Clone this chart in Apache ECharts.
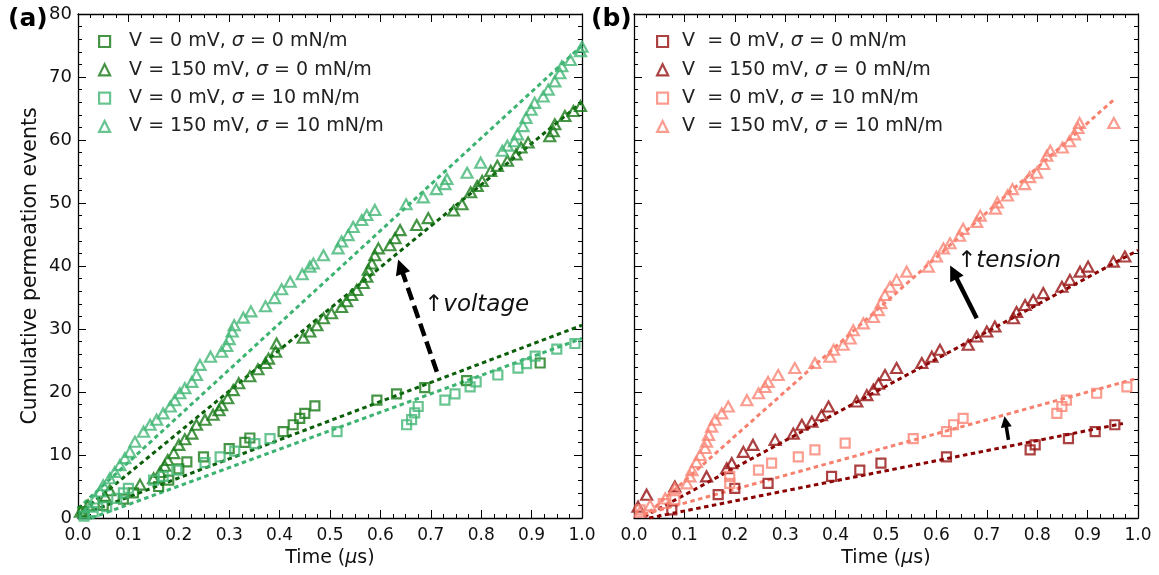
<!DOCTYPE html>
<html><head><meta charset="utf-8">
<script src="https://cdn.jsdelivr.net/npm/echarts@6/dist/echarts.min.js"></script>
<style>html,body{margin:0;padding:0;background:#fff}#c{width:1159px;height:575px}</style>
</head><body><div id="c"></div>
<script>
// ---------- legend names ----------
const namesA = ['V = 0 mV, σ = 0 mN/m', 'V = 150 mV, σ = 0 mN/m', 'V = 0 mV, σ = 10 mN/m', 'V = 150 mV, σ = 10 mN/m'];
const namesB = ['V  = 0 mV, σ = 0 mN/m', 'V  = 150 mV, σ = 0 mN/m', 'V  = 0 mV, σ = 10 mN/m', 'V  = 150 mV, σ = 10 mN/m'];

// ---------- panel (a) data: [time (μs), cumulative events] ----------
const a_V0_S0 = [[0.01,1],[0.05,2],[0.09,3],[0.11,4],[0.16,5],[0.18,6],[0.2,7.8],[0.216,8.9],[0.249,9.7],[0.3,11],[0.331,12],[0.341,12.7],[0.407,13.7],[0.427,14.8],[0.44,15.8],[0.45,16.6],[0.47,17.8],[0.593,18.7],[0.632,19.7],[0.688,20.7],[0.771,21.8],[0.917,24.6]];
const a_V150_S0 = [[0.005,1],[0.02,2],[0.054,3.4],[0.063,4.4],[0.123,5.3],[0.15,6.3],[0.163,7.3],[0.172,8.3],[0.178,9.2],[0.19,10.3],[0.2,11.6],[0.212,12.5],[0.226,13.4],[0.235,14.8],[0.252,15.6],[0.268,16.4],[0.28,17.1],[0.285,17.9],[0.297,19],[0.308,20.3],[0.319,21.4],[0.341,22.5],[0.357,23.6],[0.372,24.6],[0.378,25.3],[0.392,26.4],[0.394,27.7],[0.447,28.6],[0.46,29.6],[0.474,30.6],[0.487,31.7],[0.503,32.5],[0.523,33.5],[0.533,34.4],[0.543,35.4],[0.553,36.2],[0.566,37.3],[0.573,38.3],[0.576,39.4],[0.583,40.4],[0.589,41.7],[0.596,42.8],[0.619,43.3],[0.629,44.4],[0.639,45.7],[0.672,46.5],[0.695,47.6],[0.745,48.8],[0.762,49.8],[0.779,51.7],[0.792,52.7],[0.802,53.5],[0.819,55.1],[0.832,55.9],[0.852,56.7],[0.869,57.7],[0.879,58.8],[0.893,59.6],[0.936,60.6],[0.943,61.4],[0.946,62.5],[0.966,63.8],[0.983,64.6],[0.997,65.4]];
const a_V0_S10 = [[0.012,0.3],[0.03,1],[0.057,1.8],[0.077,3.1],[0.09,4],[0.1,4.7],[0.15,6],[0.169,6.6],[0.196,7.6],[0.252,8.8],[0.282,9.7],[0.311,10.6],[0.351,11.8],[0.381,12.6],[0.514,13.7],[0.652,14.8],[0.662,15.6],[0.668,16.7],[0.675,17.7],[0.728,18.7],[0.748,19.7],[0.778,20.8],[0.79,21.6],[0.833,22.7],[0.873,23.8],[0.89,24.5],[0.907,25.7],[0.95,26.8],[0.986,27.7]];
const a_V150_S10 = [[0.014,0.7],[0.024,1.8],[0.034,3.1],[0.044,4.2],[0.05,5.2],[0.063,6.3],[0.073,7.3],[0.083,8.4],[0.093,9.5],[0.103,10.5],[0.113,12.1],[0.13,13.7],[0.143,14.8],[0.156,15.6],[0.169,16.6],[0.183,17.7],[0.192,18.7],[0.202,19.8],[0.212,20.6],[0.226,21.6],[0.235,22.7],[0.242,24.3],[0.263,25.6],[0.285,26.4],[0.295,27.3],[0.3,28.4],[0.306,29.6],[0.31,30.6],[0.328,31.8],[0.343,32.8],[0.372,33.6],[0.39,34.9],[0.404,36.3],[0.421,37.5],[0.445,38.7],[0.46,39.9],[0.467,40.4],[0.487,41.7],[0.516,42.8],[0.523,43.9],[0.536,44.9],[0.546,46.2],[0.563,47.3],[0.573,48.1],[0.589,48.9],[0.651,49.8],[0.685,50.9],[0.711,52.2],[0.728,53],[0.732,53.8],[0.772,54.8],[0.799,56.4],[0.842,58.3],[0.852,59.1],[0.866,59.8],[0.872,60.9],[0.883,62.2],[0.889,63.5],[0.899,64.8],[0.906,65.9],[0.923,66.9],[0.933,68],[0.946,69.3],[0.956,70.6],[0.96,71.7],[0.977,72.7],[0.997,74.1],[1.0,74.8]];

// fitted lines, panel (a): [[t0, n0], [t1, n1]]
const fitA_V0_S0 = [[0.0,0.3],[1.0,30.6]];
const fitA_V150_S0 = [[0.0,0.5],[1.0,66.0]];
const fitA_V0_S10 = [[0.027,0.0],[1.0,28.5]];
const fitA_V150_S10 = [[0.0,1.5],[1.0,75.0]];

// ---------- panel (b) data ----------
const b_V0_S0 = [[0.075,1.3],[0.167,3.7],[0.2,4.7],[0.266,5.5],[0.392,6.6],[0.448,7.6],[0.49,8.7],[0.62,9.7],[0.786,10.8],[0.796,11.6],[0.862,12.6],[0.915,13.7],[0.954,14.8]];
const b_V150_S0 = [[0.008,1.8],[0.025,3.7],[0.081,5],[0.144,6.6],[0.184,7.9],[0.194,8.7],[0.217,10.5],[0.236,11.6],[0.28,12.4],[0.316,13.4],[0.333,14.8],[0.353,15.3],[0.372,16.3],[0.386,17.7],[0.442,18.5],[0.462,19.5],[0.475,20.4],[0.485,21.3],[0.498,22.7],[0.521,23.8],[0.571,24.6],[0.591,25.6],[0.607,26.7],[0.663,27.5],[0.68,28.8],[0.7,29.6],[0.716,30.4],[0.753,31.7],[0.759,32.7],[0.776,33.8],[0.792,34.6],[0.812,35.7],[0.849,36.7],[0.865,37.8],[0.885,39.1],[0.901,39.9],[0.951,40.7],[0.974,41.5]];
const b_V0_S10 = [[0.012,1.3],[0.058,2.3],[0.081,2.9],[0.19,5.5],[0.19,6.6],[0.247,7.6],[0.273,8.7],[0.326,9.7],[0.359,10.8],[0.419,11.9],[0.554,12.6],[0.62,13.7],[0.634,14.8],[0.653,15.8],[0.839,16.6],[0.849,17.7],[0.858,18.7],[0.918,19.8],[0.978,20.8]];
const b_V150_S10 = [[0.012,1],[0.032,2],[0.062,3.1],[0.081,4.7],[0.105,5.5],[0.111,6.6],[0.115,7.6],[0.124,8.9],[0.131,10],[0.141,11.1],[0.144,12.1],[0.148,13.2],[0.154,14.5],[0.161,15.6],[0.174,16.6],[0.187,17.7],[0.224,18.7],[0.247,19.8],[0.26,20.8],[0.266,21.6],[0.286,22.7],[0.319,23.8],[0.359,24.6],[0.389,25.6],[0.396,26.7],[0.415,27.5],[0.429,28.5],[0.435,29.8],[0.455,30.9],[0.475,31.9],[0.485,33],[0.49,34.1],[0.498,35.4],[0.508,36.7],[0.521,37.8],[0.541,39.1],[0.584,39.9],[0.6,41.5],[0.614,42.8],[0.627,43.6],[0.646,44.8],[0.653,45.9],[0.68,47],[0.687,48],[0.717,49.1],[0.721,50.1],[0.741,51.2],[0.751,52.2],[0.775,53],[0.785,54.1],[0.799,54.8],[0.813,56.2],[0.819,57.5],[0.826,58.3],[0.85,58.8],[0.864,59.8],[0.874,60.9],[0.881,61.9],[0.884,62.7],[0.952,62.7]];

const fitB_V0_S0 = [[0.03,0.0],[0.97,15.0]];
const fitB_V150_S0 = [[0.02,0.2],[1.0,42.5]];
const fitB_V0_S10 = [[0.02,0.6],[1.0,22.2]];
const fitB_V150_S10 = [[0.03,0.9],[0.952,66.4]];

// annotation arrows (data coordinates): [tail, head]
const arrowVoltage = [[0.712,23.2],[0.640,39.9]];
const arrowTension = [[0.680,31.7],[0.634,39.0]];
const arrowSmall = [[0.743,12.4],[0.737,15.3]];

// ---------- styling ----------
const FONT = 'DejaVu Sans';
const colA = {dark:'#187a18', darkLine:'#0b5f0b', light:'#42b676', lightLine:'#3cb371'};
const colB = {dark:'#961212', darkLine:'#8b0000', light:'#f98474', lightLine:'#f8806f'};

function xAx(gi, top, showLabel){
  return {type:'value', gridIndex:gi, min:0, max:1, interval:0.1, position: top?'top':'bottom',
    axisLine:{onZero:false, lineStyle:{color:'#000', width:1.3}},
    axisTick:{inside:true, length:8, lineStyle:{color:'#000', width:1}},
    minorTick:{show:true, splitNumber:4, length:4, lineStyle:{color:'#000', width:1}},
    splitLine:{show:false},
    axisLabel:{show:showLabel, margin:9, fontFamily:FONT, fontSize:17, color:'#111', formatter:v=>v.toFixed(1)},
    name: showLabel ? 'Time ({i|μ}s)' : '', nameLocation:'middle', nameGap:30,
    nameTextStyle:{fontFamily:FONT, fontSize:19, color:'#111', rich:{i:{fontStyle:'italic', fontFamily:FONT, fontSize:19, color:'#111'}}}
  };
}
function yAx(gi, right, showLabel, name){
  return {type:'value', gridIndex:gi, min:0, max:80, interval:10, position: right?'right':'left',
    axisLine:{onZero:false, lineStyle:{color:'#000', width:1.3}},
    axisTick:{inside:true, length:8, lineStyle:{color:'#000', width:1}},
    minorTick:{show:true, splitNumber:5, length:4, lineStyle:{color:'#000', width:1}},
    splitLine:{show:false},
    axisLabel:{show:showLabel, margin:6, fontFamily:FONT, fontSize:18, color:'#111'},
    name: name||'', nameLocation:'middle', nameGap:37,
    nameTextStyle:{fontFamily:FONT, fontSize:20.5, color:'#111'}
  };
}
function sc(name, data, sq, color, xi, yi){
  return {type:'scatter', name, data, xAxisIndex:xi, yAxisIndex:yi,
    symbol: sq?'rect':'triangle', symbolSize: sq?9:[11,10],
    itemStyle:{color:'rgba(0,0,0,0)', borderColor:color, borderWidth:2.2}, z:3, silent:true};
}
function fit(data, color, xi, yi){
  return {type:'line', data, xAxisIndex:xi, yAxisIndex:yi, symbol:'none', silent:true, z:2,
    lineStyle:{color, width:3, type:[4.5,3.5]}};
}
function arrow(coords, xi, yi, dash, w, head){
  return {type:'lines', coordinateSystem:'cartesian2d', xAxisIndex:xi, yAxisIndex:yi, z:6, silent:true,
    data:[{coords}], symbol:['none','triangle'], symbolSize:[1,head],
    lineStyle:{color:'#000', width:w, type:dash, opacity:1, cap:'butt'}, itemStyle:{color:'#000'}};
}
function legendText(padLeft){
  return {fontFamily:FONT, fontSize:19, color:'#222', lineHeight:19, padding:[0,0,0,padLeft],
    rich:{s:{fontFamily:FONT, fontStyle:'italic', fontSize:19, color:'#222', lineHeight:19}}};
}
const fmt = n => n.replace('σ', '{s|σ}');

const chart = echarts.init(document.getElementById('c'), null, {renderer:'canvas'});
chart.setOption({
  animation:false,
  backgroundColor:'#fff',
  grid:[{left:78, top:14, width:504, height:504}, {left:634, top:14, width:504, height:504}],
  xAxis:[xAx(0,false,true), xAx(0,true,false), xAx(1,false,true), xAx(1,true,false)],
  yAxis:[yAx(0,false,true,'Cumulative permeation events'), yAx(0,true,false), yAx(1,false,false), yAx(1,true,false)],
  legend:[
    {data:namesA, orient:'vertical', left:98, top:32, padding:0, itemWidth:11, itemHeight:11, itemGap:9.3,
     selectedMode:false, textStyle:legendText(14), formatter:fmt, itemStyle:{borderWidth:2.2}},
    {data:namesB, orient:'vertical', left:656, top:32, padding:0, itemWidth:11, itemHeight:11, itemGap:9.3,
     selectedMode:false, textStyle:legendText(9), formatter:fmt, itemStyle:{borderWidth:2.2}}
  ],
  graphic:[
    {type:'text', left:8, top:7, style:{text:'(a)', font:'bold 25px "DejaVu Sans"', fill:'#000'}},
    {type:'text', left:591, top:7, style:{text:'(b)', font:'bold 25px "DejaVu Sans"', fill:'#000'}},
    {type:'text', x:424, y:305, style:{text:'{u|↑}{i|voltage}', verticalAlign:'middle',
      rich:{u:{fontFamily:FONT, fontSize:23, fill:'#111'}, i:{fontFamily:FONT, fontStyle:'italic', fontSize:23, fill:'#111'}}}},
    {type:'text', x:957, y:261, style:{text:'{u|↑}{i|tension}', verticalAlign:'middle',
      rich:{u:{fontFamily:FONT, fontSize:23, fill:'#111'}, i:{fontFamily:FONT, fontStyle:'italic', fontSize:23, fill:'#111'}}}}
  ],
  series:[
    fit(fitA_V0_S0, colA.darkLine, 0, 0),
    fit(fitA_V150_S0, colA.darkLine, 0, 0),
    fit(fitA_V0_S10, colA.lightLine, 0, 0),
    fit(fitA_V150_S10, colA.lightLine, 0, 0),
    sc(namesA[0], a_V0_S0, true, colA.dark, 0, 0),
    sc(namesA[1], a_V150_S0, false, colA.dark, 0, 0),
    sc(namesA[2], a_V0_S10, true, colA.light, 0, 0),
    sc(namesA[3], a_V150_S10, false, colA.light, 0, 0),
    fit(fitB_V0_S0, colB.darkLine, 2, 2),
    fit(fitB_V150_S0, colB.darkLine, 2, 2),
    fit(fitB_V0_S10, colB.lightLine, 2, 2),
    fit(fitB_V150_S10, colB.lightLine, 2, 2),
    sc(namesB[0], b_V0_S0, true, colB.dark, 2, 2),
    sc(namesB[1], b_V150_S0, false, colB.dark, 2, 2),
    sc(namesB[2], b_V0_S10, true, colB.light, 2, 2),
    sc(namesB[3], b_V150_S10, false, colB.light, 2, 2),
    arrow(arrowVoltage, 0, 0, [13,6], 4.5, 15),
    arrow(arrowTension, 2, 2, 'solid', 4.5, 15),
    arrow(arrowSmall, 2, 2, 'solid', 3.5, 11)
  ]
});
</script></body></html>
